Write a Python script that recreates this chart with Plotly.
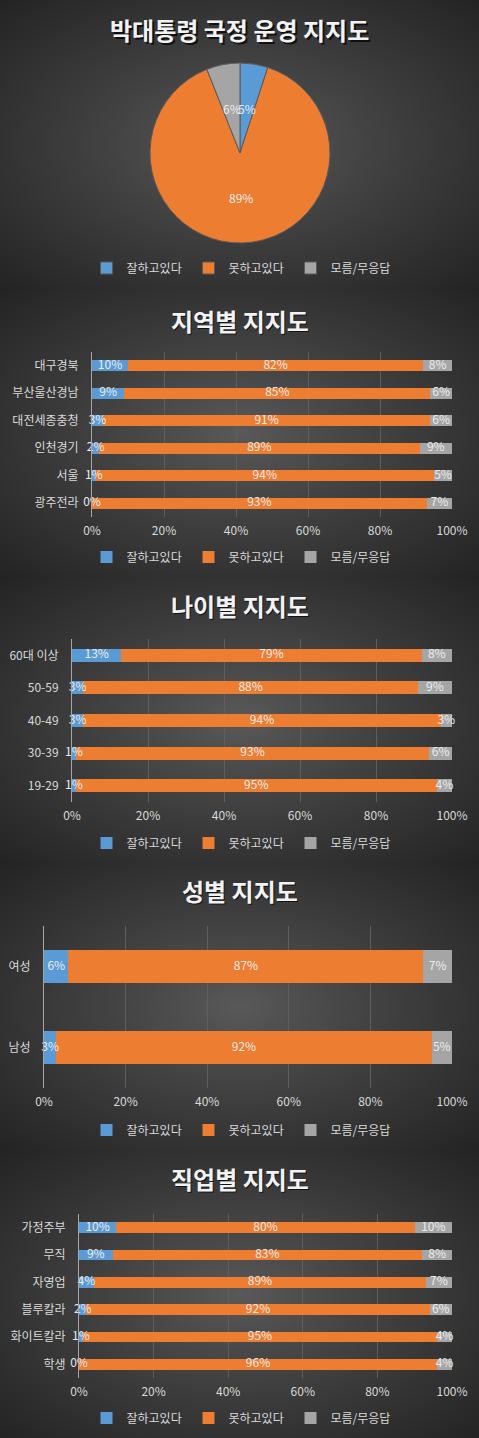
#!/usr/bin/env python3
# -*- coding: utf-8 -*-
"""plot.py - 박대통령 국정 운영 지지도 (pie + 4 stacked bar panels)"""

import base64
import struct
import zlib

import numpy as np
import plotly.graph_objects as go

# === DATA ===
answer_names = ["잘하고있다", "못하고있다", "모름/무응답"]

overall_share = [5, 89, 6]

region_cats = ["대구경북", "부산울산경남", "대전세종충청", "인천경기", "서울", "광주전라"]
region_good = [10, 9, 3, 2, 1, 0]
region_bad = [82, 85, 91, 89, 94, 93]
region_none = [8, 6, 6, 9, 5, 7]

age_cats = ["60대 이상", "50-59", "40-49", "30-39", "19-29"]
age_good = [13, 3, 3, 1, 1]
age_bad = [79, 88, 94, 93, 95]
age_none = [8, 9, 3, 6, 4]

sex_cats = ["여성", "남성"]
sex_good = [6, 3]
sex_bad = [87, 92]
sex_none = [7, 5]

job_cats = ["가정주부", "무직", "자영업", "블루칼라", "화이트칼라", "학생"]
job_good = [10, 9, 4, 2, 1, 0]
job_bad = [80, 83, 89, 92, 95, 96]
job_none = [10, 8, 7, 6, 4, 4]

x_ticks = [0, 20, 40, 60, 80, 100]

# === STYLE ===
W, H = 479, 1438
FONT = "Noto Sans CJK KR"
COLORS = ["#5B9BD5", "#ED7D31", "#A5A5A5"]
TEXT_COL = "#d9d9d9"
LABEL_COL = "#ececec"
GRID_COL = "#5e5e5e"
AXIS_COL = "#a6a6a6"


def px_x(x):
    return x / W


def px_y(y):
    return 1 - y / H


def background_png(w, h, bands):
    """Dark radial gradient per chart panel, encoded as a PNG data URI."""
    img = np.zeros((h, w), dtype=float)
    xs = np.arange(w)[None, :]
    for top, bot in bands:
        ys = np.arange(top, bot)[:, None]
        cx, cy = w / 2, (top + bot) / 2
        d = np.sqrt(((xs - cx) / (w / 2)) ** 2 + ((ys - cy) / ((bot - top) / 2)) ** 2) / np.sqrt(2)
        d = np.clip(d, 0, 1) ** 0.9
        img[top:bot, :] = 90 * (1 - d) + 36 * d
    rgb = np.repeat(img[:, :, None], 3, axis=2).astype(np.uint8)
    raw = b"".join(b"\x00" + rgb[r].tobytes() for r in range(h))

    def chunk(tag, data):
        c = struct.pack(">I", len(data)) + tag + data
        return c + struct.pack(">I", zlib.crc32(tag + data) & 0xFFFFFFFF)

    png = b"\x89PNG\r\n\x1a\n"
    png += chunk(b"IHDR", struct.pack(">IIBBBBB", w, h, 8, 2, 0, 0, 0))
    png += chunk(b"IDAT", zlib.compress(raw, 9))
    png += chunk(b"IEND", b"")
    return "data:image/png;base64," + base64.b64encode(png).decode()


fig = go.Figure()

# --- chart 1: pie ---
pie_cx, pie_cy, pie_r = 240, 153, 90
pie_dom_x = [px_x(pie_cx - pie_r), px_x(pie_cx + pie_r)]
pie_dom_y = [px_y(pie_cy + pie_r), px_y(pie_cy - pie_r)]
fig.add_trace(go.Pie(
    labels=answer_names,
    values=overall_share,
    sort=False,
    direction="clockwise",
    rotation=0,
    marker=dict(colors=COLORS, line=dict(color="#5a5a5a", width=1)),
    textinfo="none",
    domain=dict(x=pie_dom_x, y=pie_dom_y),
    legend="legend",
    hoverinfo="label+percent",
))

# pie labels at half radius on each slice's mid-angle (Excel "centre" style),
# placed on a hidden axis pair laid over the pie domain
fig.update_layout(
    xaxis5=dict(domain=pie_dom_x, range=[-1, 1], visible=False, fixedrange=True, anchor="y5"),
    yaxis5=dict(domain=pie_dom_y, range=[-1, 1], visible=False, fixedrange=True, anchor="x5"),
)
share = np.array(overall_share, dtype=float)
mid = (np.cumsum(share) - share / 2) / share.sum() * 2 * np.pi
for v, a in zip(overall_share, mid):
    fig.add_annotation(x=0.5 * np.sin(a), y=0.5 * np.cos(a), xref="x5", yref="y5",
                       text=f"{v}%", showarrow=False,
                       font=dict(color=LABEL_COL, size=12, family=FONT))

# --- bar panels ---
panels = [
    (region_cats, [region_good, region_bad, region_none], 92, 352, 517, 557),
    (age_cats, [age_good, age_bad, age_none], 72, 639, 802, 843),
    (sex_cats, [sex_good, sex_bad, sex_none], 44, 926, 1088, 1130),
    (job_cats, [job_good, job_bad, job_none], 79, 1214, 1378, 1418),
]

titles = [("박대통령 국정 운영 지지도", 30), ("지역별 지지도", 320), ("나이별 지지도", 605),
          ("성별 지지도", 890), ("직업별 지지도", 1178)]

legend_layouts = {"legend": 268}

for i, (cats, series, x0, y_top, y_bot, leg_y) in enumerate(panels):
    n = i + 1
    xa = "x" if n == 1 else f"x{n}"
    ya = "y" if n == 1 else f"y{n}"
    leg = f"legend{n + 1}"
    legend_layouts[leg] = leg_y

    left = np.zeros(len(cats))
    for name, vals, col in zip(answer_names, series, COLORS):
        vals = np.array(vals, dtype=float)
        fig.add_trace(go.Bar(
            y=cats, x=vals, name=name, orientation="h",
            marker=dict(color=col, line=dict(width=0)),
            xaxis=xa, yaxis=ya, legend=leg,
        ))
        # segment labels centred on each segment (like Excel, they may overflow)
        fig.add_trace(go.Scatter(
            y=cats, x=left + vals / 2, mode="text",
            text=[f"{int(v)}%" for v in vals],
            textposition="middle center",
            textfont=dict(color=LABEL_COL, size=12, family=FONT),
            cliponaxis=False, showlegend=False, hoverinfo="skip",
            xaxis=xa, yaxis=ya,
        ))
        left = left + vals

    key = "" if n == 1 else str(n)
    fig.update_layout(**{
        f"xaxis{key}": dict(
            domain=[px_x(x0), px_x(452)], anchor=ya, range=[0, 100],
            tickvals=x_ticks, ticktext=[f"{t}%" for t in x_ticks],
            showgrid=True, gridcolor=GRID_COL, gridwidth=1, zeroline=False,
            showline=False, ticks="", ticklabelstandoff=5,
            tickfont=dict(color=TEXT_COL, size=12, family=FONT),
            automargin=False, fixedrange=True,
        ),
        f"yaxis{key}": dict(
            domain=[px_y(y_bot), px_y(y_top)], anchor=xa,
            autorange="reversed", showgrid=False, zeroline=False,
            showline=True, linecolor=AXIS_COL, linewidth=1,
            ticks="", ticklabelstandoff=10,
            tickfont=dict(color=TEXT_COL, size=12, family=FONT),
            automargin=False, fixedrange=True,
        ),
    })

# titles with a soft drop shadow
for text, ty in titles:
    for dx, col in ((1.5, "rgba(0,0,0,0.7)"), (0, "#f2f2f2")):
        fig.add_annotation(text=f"<b>{text}</b>", x=0.5, y=px_y(ty), xref="paper", yref="paper",
                           xanchor="center", yanchor="middle", xshift=dx, yshift=-dx,
                           showarrow=False, font=dict(size=24, color=col, family=FONT))

for leg, ly in legend_layouts.items():
    fig.update_layout(**{leg: dict(
        orientation="h", x=0.5, xanchor="center", y=px_y(ly), yanchor="middle",
        font=dict(color=TEXT_COL, size=12, family=FONT), bgcolor="rgba(0,0,0,0)",
        itemwidth=30, entrywidth=57, entrywidthmode="pixels",
        traceorder="normal", itemclick=False, itemdoubleclick=False,
    )})

bands = [(0, 288), (288, 576), (576, 863), (863, 1150), (1150, H)]
fig.add_layout_image(dict(
    source=background_png(W, H, bands), xref="paper", yref="paper",
    x=0, y=1, sizex=1, sizey=1, xanchor="left", yanchor="top",
    sizing="stretch", layer="below",
))

fig.update_layout(
    width=W, height=H, autosize=False,
    margin=dict(l=0, r=0, t=0, b=0, autoexpand=False),
    paper_bgcolor="#333333", plot_bgcolor="rgba(0,0,0,0)",
    barmode="stack", bargap=0.6,
    font=dict(family=FONT, color=TEXT_COL),
    showlegend=True,
)

fig.write_html(
    "out.html",
    config={"displayModeBar": False},
    post_script="document.body.style.margin='0';document.body.style.overflow='hidden';",
)
